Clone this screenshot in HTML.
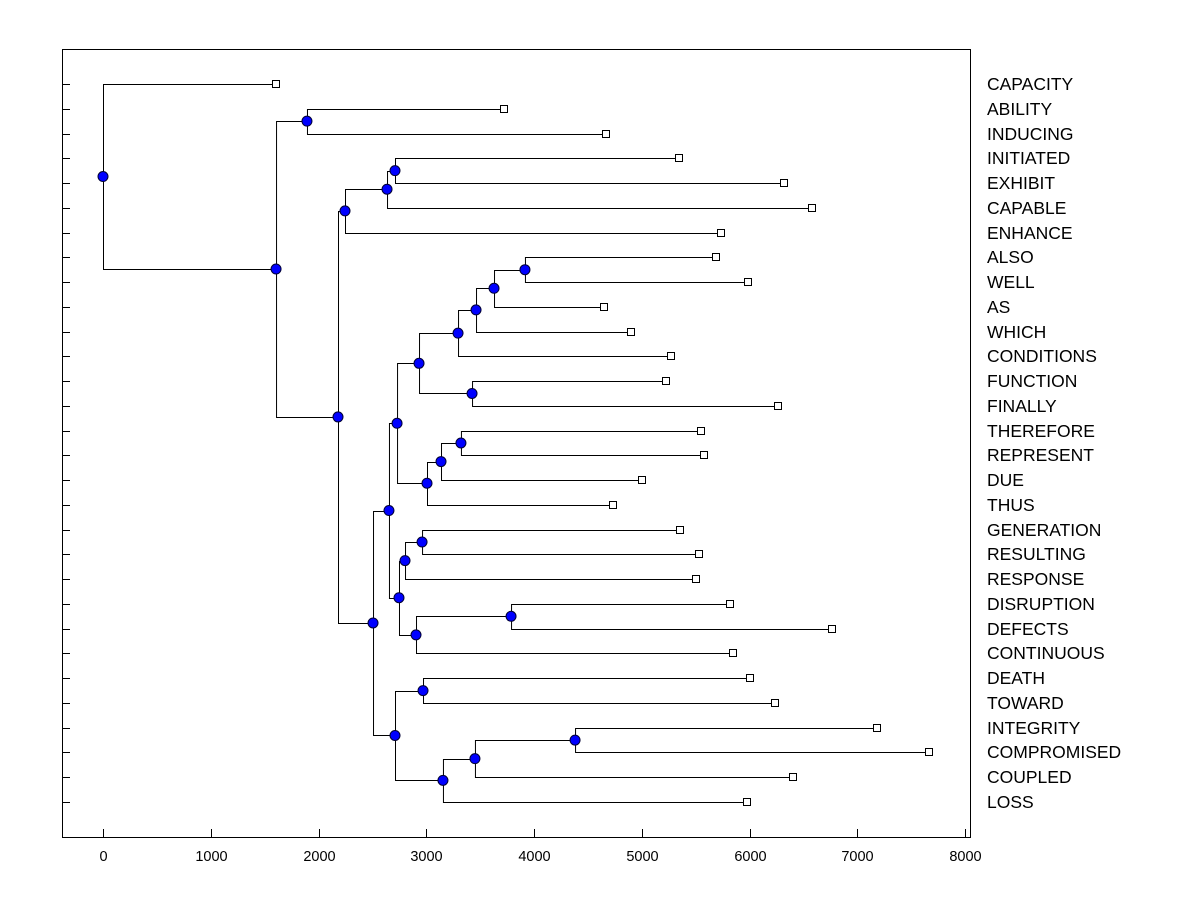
<!DOCTYPE html>
<html><head><meta charset="utf-8"><style>
body{margin:0;background:#fff}
svg{display:block;font-family:"Liberation Sans",Arial,sans-serif}
</style></head><body>
<svg id="chart" width="1200" height="900">
<rect x="62.5" y="49.5" width="908" height="788" fill="none" stroke="#000"/>
<g id="g"></g>
</svg>
<script>
const labels=["CAPACITY","ABILITY","INDUCING","INITIATED","EXHIBIT","CAPABLE","ENHANCE","ALSO","WELL","AS","WHICH","CONDITIONS","FUNCTION","FINALLY","THEREFORE","REPRESENT","DUE","THUS","GENERATION","RESULTING","RESPONSE","DISRUPTION","DEFECTS","CONTINUOUS","DEATH","TOWARD","INTEGRITY","COMPROMISED","COUPLED","LOSS"];
const leafValues=[1606,3722,4668,5346,6320,6580,5735,5689,5986,4650,4900,5271,5225,6265,5550,5578,5002,4733,5355,5531,5503,5819,6766,5847,6005,6237,7183,7666,6404,5977];
const merges=[
[7,8,3916],[30,9,3629],[31,10,3462],[32,11,3295],[12,13,3425],[33,34,2933],
[14,15,3322],[36,16,3137],[37,17,3007],[35,38,2729],[18,19,2961],[40,20,2803],
[21,22,3787],[42,23,2905],[41,43,2747],[39,44,2654],[24,25,2970],[26,27,4381],
[47,28,3452],[48,29,3155],[46,49,2710],[45,50,2506],[3,4,2710],[52,5,2636],
[53,6,2246],[54,51,2181],[1,2,1893],[56,55,1606],[0,57,0]
];
const xTicks=[0,1000,2000,3000,4000,5000,6000,7000,8000];
const X=v=>103+v*(862/8000);
const Y=i=>84+i*(718/29);
const g=document.getElementById('g');
const NS='http://www.w3.org/2000/svg';
function mk(t,a){const e=document.createElementNS(NS,t);for(const k in a)e.setAttribute(k,a[k]);g.appendChild(e);return e;}
const pos=[];
leafValues.forEach((v,i)=>pos.push({x:X(v),y:Y(i)}));
const nodes=[];
merges.forEach(m=>{const a=pos[m[0]],b=pos[m[1]],x=X(m[2]);
 pos.push({x:x,y:(a.y+b.y)/2});
 const p=mk('path',{d:`M${a.x},${Math.round(a.y)+.5}H${x+.5}V${Math.round(b.y)+.5}H${b.x}`,fill:'none',stroke:'#000','stroke-width':1});
 
 
 nodes.push(pos[pos.length-1]);});
nodes.forEach(n=>{const c=mk('circle',{cx:n.x,cy:n.y,r:5,fill:'#0000ff',stroke:'#000033','stroke-width':1});
 
 });
labels.forEach((l,i)=>{const y=Math.round(Y(i));
 const s=mk('rect',{x:Math.round(X(leafValues[i]))-3.5,y:y-3.5,width:7,height:7,fill:'#fff',stroke:'#000'});
 
 
 const t=mk('line',{x1:62,x2:70,y1:y+.5,y2:y+.5,stroke:'#000'});
 
 
 const tx=mk('text',{x:987,y:y+6,'font-size':17.5});tx.textContent=l;
 
 });
xTicks.forEach(v=>{const x=Math.round(X(v))+.5;
 const t=mk('line',{x1:x,x2:x,y1:829,y2:837,stroke:'#000'});
 
 
 const tx=mk('text',{x:x,y:861,'font-size':14.5,'text-anchor':'middle'});tx.textContent=v;
 
 });
</script>
</body></html>
